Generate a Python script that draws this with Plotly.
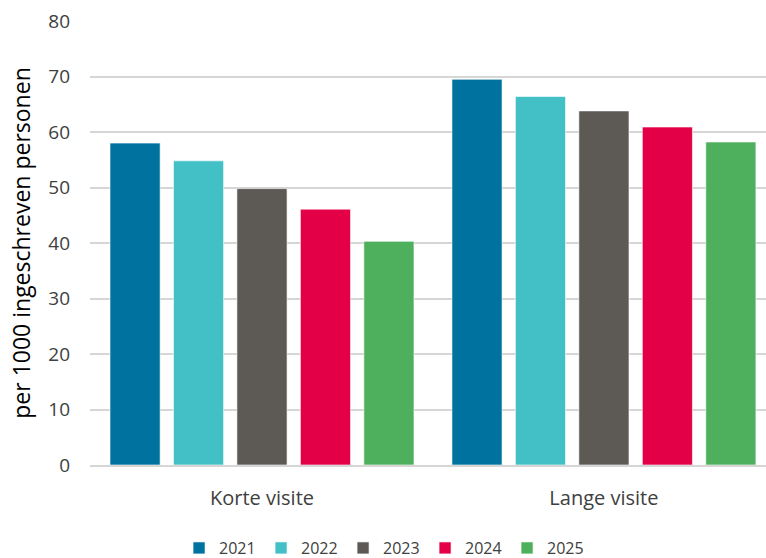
import plotly.graph_objects as go

categories = ["Korte visite", "Lange visite"]
years = ["2021", "2022", "2023", "2024", "2025"]
values = {
    "2021": [58.0, 69.5],
    "2022": [54.8, 66.4],
    "2023": [49.8, 63.8],
    "2024": [46.1, 60.9],
    "2025": [40.3, 58.2],
}
colors = ["#00729F", "#42C0C6", "#5D5955", "#E40046", "#4EB05C"]
y_ticks = [0, 10, 20, 30, 40, 50, 60, 70, 80]

fig = go.Figure()
for yr, col in zip(years, colors):
    fig.add_trace(go.Bar(
        name=yr, x=categories, y=values[yr],
        marker=dict(color=col, line=dict(color="rgba(255,255,255,0.6)", width=1)),
    ))

font_family = "Open Sans, Liberation Sans, sans-serif"
fig.update_layout(
    width=766, height=558,
    barmode="group", bargap=0.072, bargroupgap=0.21,
    plot_bgcolor="white", paper_bgcolor="white",
    margin=dict(l=90, r=0, t=21, b=93, autoexpand=False),
    font=dict(family=font_family, color="#404040"),
    yaxis=dict(
        range=[0, 80], tickvals=y_ticks, showgrid=True, gridcolor="#D6D6D6", gridwidth=2,
        zeroline=False, tickfont=dict(size=19, color="#404040"), ticks="", ticklabelstandoff=19,
        automargin=False,
        title=dict(text="per 1000 ingeschreven personen", font=dict(size=23, color="#000000"), standoff=11),
    ),
    xaxis=dict(
        range=[-0.503, 1.474],
        tickfont=dict(size=20, color="#404040"), showline=True, linecolor="#D6D6D6", linewidth=2,
        ticks="", ticklabelstandoff=14, automargin=False,
    ),
    legend=dict(
        orientation="h", x=0.435, xanchor="center", y=-0.187, yanchor="middle",
        font=dict(size=16, color="#404040"), itemwidth=30, traceorder="normal",
        entrywidth=37, entrywidthmode="pixels",
    ),
)
fig.write_html("out.html", config={"displayModeBar": False},
               post_script="document.body.style.margin='0';")
